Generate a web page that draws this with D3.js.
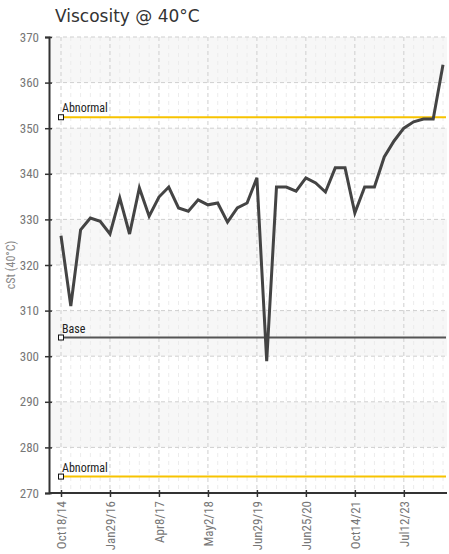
<!DOCTYPE html>
<html>
<head>
<meta charset="utf-8">
<script src="https://cdn.jsdelivr.net/npm/d3@7"></script>
<style>
  body { margin: 0; background: #fff; }
  svg { display: block; }
</style>
</head>
<body>
<div id="chart"></div>
<script>
// viscosity samples, one per sample (evenly spaced on the x axis)
const viscosity = [
  326.4, 311.0, 327.7, 330.3, 329.6, 326.8, 334.7, 326.8, 336.9, 330.7,
  334.9, 337.1, 332.5, 331.8, 334.3, 333.2, 333.6, 329.4, 332.5, 333.6,
  339.1, 298.9, 337.1, 337.1, 336.2, 339.1, 338.0, 336.0, 341.3, 341.3,
  331.4, 337.1, 337.1, 343.7, 347.2, 350.0, 351.4, 352.0, 352.0, 363.9
];
// every 5th sample is labelled
const tickLabels = ["Oct18/14", "Jan29/16", "Apr8/17", "May2/18", "Jun29/19", "Jun25/20", "Oct14/21", "Jul12/23"];
const yTicks = [270, 280, 290, 300, 310, 320, 330, 340, 350, 360, 370];
const limitNames = ["Abnormal", "Base", "Abnormal"];
const limitValues = [352.4, 304.1, 273.6];
const limitColors = ["#f7c300", "#555555", "#f7c300"];

const width = 449, height = 554;
const plot = {left: 49, right: 447, top: 37, bottom: 493};
const narrow = "Liberation Sans Narrow, Roboto Condensed, Arial Narrow, sans-serif";

const svg = d3.select("#chart").append("svg")
  .attr("width", width)
  .attr("height", height);

const x = d3.scaleLinear()
  .domain([0, viscosity.length - 1])
  .range([61, 443]);

const y = d3.scaleLinear()
  .domain([270, 370])
  .range([plot.bottom, plot.top]);

const tickIdx = tickLabels.map((d, i) => i * 5);

// alternating bands
svg.append("g").selectAll("rect")
  .data(yTicks.slice(0, -1).filter((d, i) => i % 2 == 1))
  .enter().append("rect")
  .attr("x", plot.left)
  .attr("width", plot.right - plot.left)
  .attr("y", d => y(d + 10))
  .attr("height", d => y(d) - y(d + 10))
  .attr("fill", "#f7f7f7");

// minor vertical grid (each sample)
svg.append("g").selectAll("line")
  .data(d3.range(viscosity.length).filter(i => i % 5 != 0))
  .enter().append("line")
  .attr("x1", d => x(d)).attr("x2", d => x(d))
  .attr("y1", plot.top).attr("y2", plot.bottom)
  .attr("stroke", "#ececec")
  .attr("stroke-dasharray", "4,4");

// major grid
svg.append("g").selectAll("line")
  .data(tickIdx)
  .enter().append("line")
  .attr("x1", d => x(d)).attr("x2", d => x(d))
  .attr("y1", plot.top).attr("y2", plot.bottom)
  .attr("stroke", "#cfcfcf")
  .attr("stroke-dasharray", "4,3");

svg.append("g").selectAll("line")
  .data(yTicks.slice(1))
  .enter().append("line")
  .attr("x1", plot.left).attr("x2", plot.right)
  .attr("y1", d => y(d)).attr("y2", d => y(d))
  .attr("stroke", "#cfcfcf")
  .attr("stroke-dasharray", "4,3");

// limit lines
const limits = svg.append("g").selectAll("g")
  .data(limitValues)
  .enter().append("g");

limits.append("line")
  .attr("x1", x(0)).attr("x2", 446)
  .attr("y1", d => y(d)).attr("y2", d => y(d))
  .attr("stroke", (d, i) => limitColors[i])
  .attr("stroke-width", 2);

limits.append("rect")
  .attr("x", x(0) - 2.5).attr("y", d => y(d) - 2.5)
  .attr("width", 5).attr("height", 5)
  .attr("fill", "#fff")
  .attr("stroke", "#111")
  .attr("stroke-width", 1);

limits.append("text")
  .attr("x", x(0) + 1)
  .attr("y", d => y(d) - 5)
  .text((d, i) => limitNames[i])
  .attr("font-family", narrow)
  .attr("font-size", "12px")
  .attr("fill", "#222");

// data line
svg.append("path")
  .datum(viscosity)
  .attr("fill", "none")
  .attr("stroke", "#444")
  .attr("stroke-width", 3)
  .attr("d", d3.line().x((d, i) => x(i)).y(d => y(d)));

// axes
const yAxis = svg.append("g")
  .attr("transform", "translate(" + plot.left + ",0)")
  .call(d3.axisLeft(y).tickValues(yTicks).tickSize(4).tickPadding(6).tickFormat(d3.format("d")));
yAxis.selectAll(".tick line").attr("x1", 3).attr("x2", -4);

const xAxis = svg.append("g")
  .attr("transform", "translate(0," + plot.bottom + ")")
  .call(d3.axisBottom(x).tickValues(tickIdx).tickSize(4).tickFormat((d, i) => tickLabels[i]));
xAxis.selectAll(".tick line").attr("y1", -3).attr("y2", 4);
xAxis.select(".domain").attr("d", "M" + plot.left + ",0H" + plot.right);
xAxis.selectAll(".tick text")
  .attr("transform", "rotate(-90)")
  .attr("text-anchor", "end")
  .attr("x", -8)
  .attr("y", 0)
  .attr("dy", "0.35em");

svg.selectAll(".domain").attr("stroke", "#333").attr("stroke-width", 2);
svg.selectAll(".tick line").attr("stroke", "#333").attr("stroke-width", 1.5);
svg.selectAll(".tick text")
  .attr("font-family", narrow)
  .attr("font-size", "13px")
  .attr("fill", "#777");

// y label
svg.append("text")
  .attr("transform", "translate(15,265) rotate(-90)")
  .attr("text-anchor", "middle")
  .text("cSt (40°C)")
  .attr("font-family", narrow)
  .attr("font-size", "12px")
  .attr("fill", "#888");

// title
svg.append("text")
  .attr("x", 55)
  .attr("y", 22)
  .text("Viscosity @ 40°C")
  .attr("font-family", "DejaVu Sans, sans-serif")
  .attr("font-size", "17px")
  .attr("fill", "#333");
</script>
</body>
</html>
